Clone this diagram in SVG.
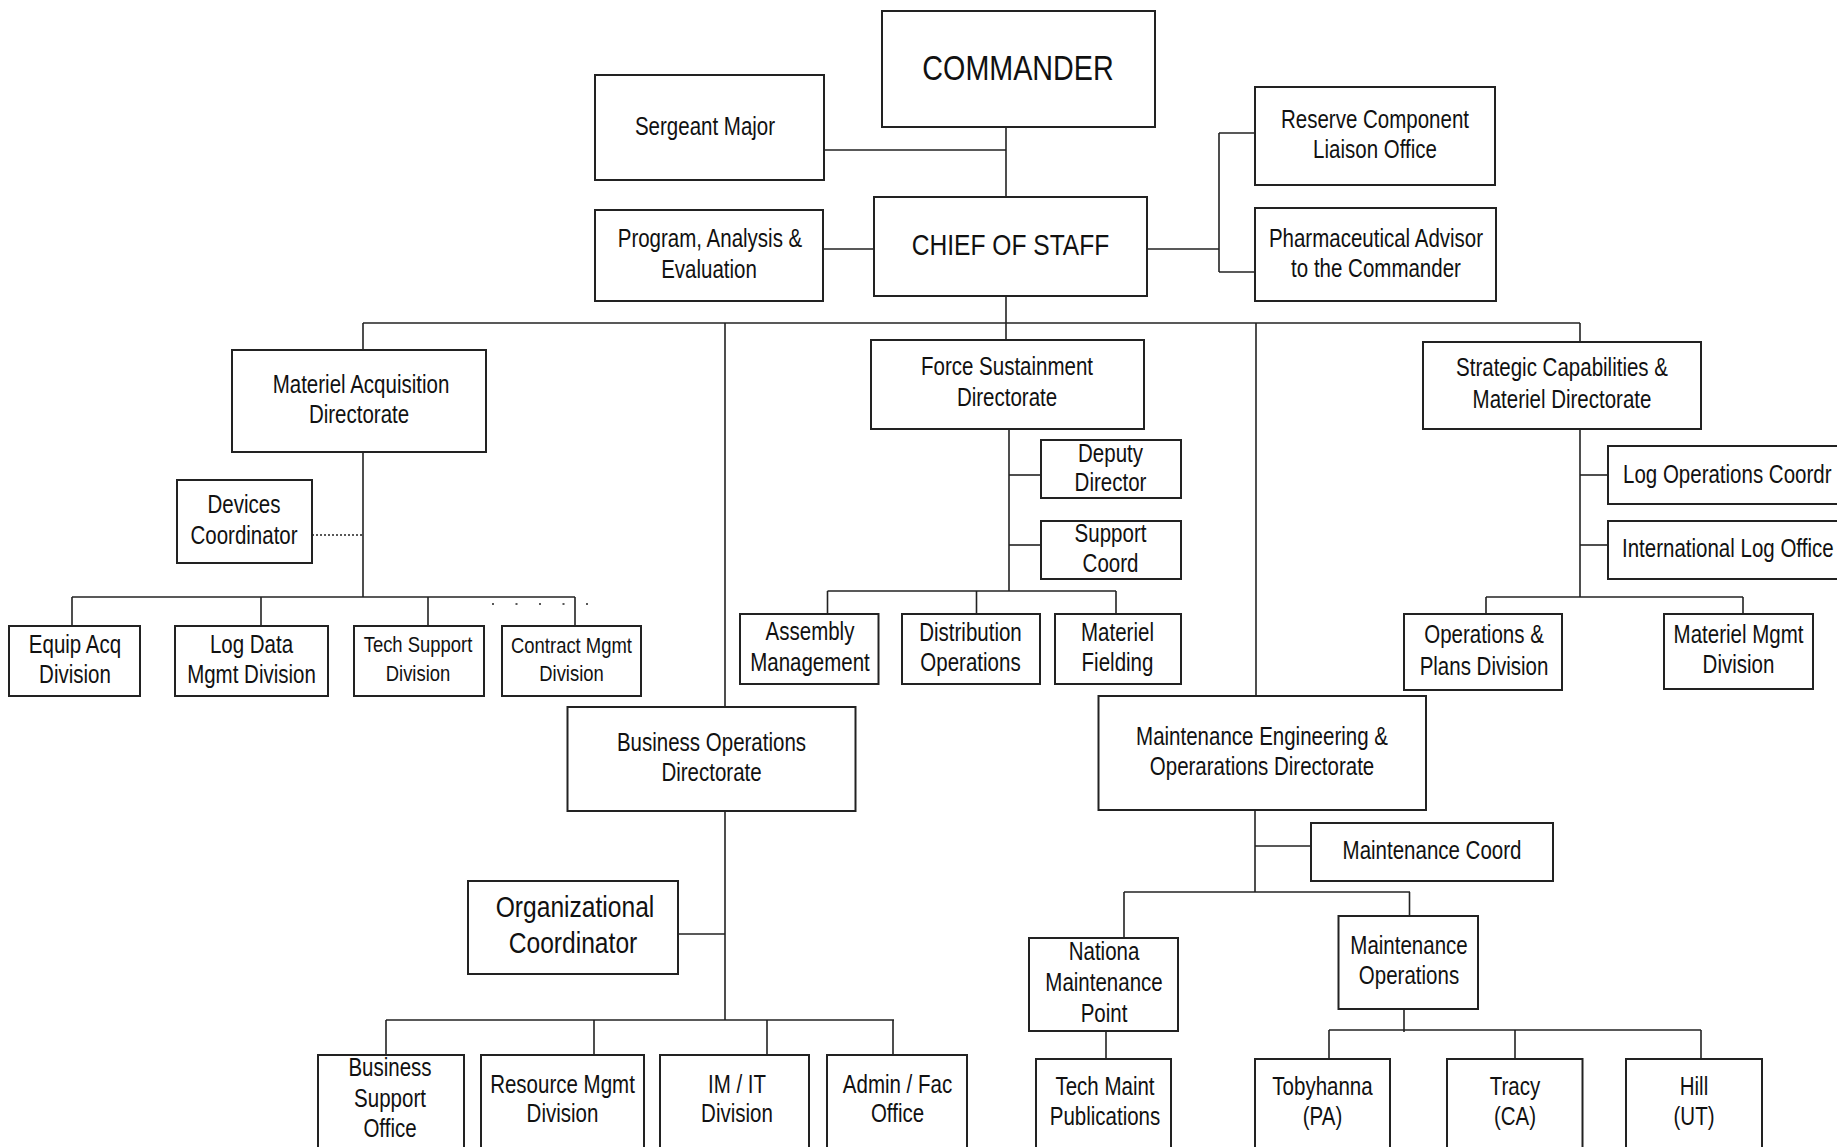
<svg xmlns="http://www.w3.org/2000/svg" width="1837" height="1147" viewBox="0 0 1837 1147">
<style>
rect{fill:#fff;stroke:#222;stroke-width:2}
text{font-family:"Liberation Sans",Arial,sans-serif;font-size:25px;fill:#111;text-anchor:middle}
.l{text-anchor:start}
.s{font-size:22.5px}
.conn line{stroke:#222;stroke-width:1.6}
.dot{stroke-dasharray:2 2}
</style>
<rect x="0" y="0" width="1837" height="1147" style="stroke:none"/>
<g class="conn">
<line x1="1006" y1="127" x2="1006" y2="197"/>
<line x1="824" y1="150" x2="1006" y2="150"/>
<line x1="823" y1="249" x2="874" y2="249"/>
<line x1="1147" y1="249" x2="1219" y2="249"/>
<line x1="1219" y1="133" x2="1219" y2="272"/>
<line x1="1219" y1="133" x2="1255" y2="133"/>
<line x1="1219" y1="272" x2="1255" y2="272"/>
<line x1="1006" y1="296" x2="1006" y2="340"/>
<line x1="363" y1="323" x2="1580" y2="323"/>
<line x1="363" y1="323" x2="363" y2="350"/>
<line x1="725" y1="323" x2="725" y2="707"/>
<line x1="1256" y1="323" x2="1256" y2="696"/>
<line x1="1580" y1="323" x2="1580" y2="342"/>
<line x1="363" y1="452" x2="363" y2="597"/>
<line class="dot" x1="312" y1="535" x2="363" y2="535"/>
<line x1="72" y1="597" x2="575" y2="597"/>
<line x1="72" y1="597" x2="72" y2="626"/>
<line x1="261" y1="597" x2="261" y2="626"/>
<line x1="428" y1="597" x2="428" y2="626"/>
<line x1="575" y1="597" x2="575" y2="626"/>
<line class="dot" x1="492" y1="604" x2="590" y2="604" style="stroke-dasharray:2 21.5"/>
<line x1="1009" y1="429" x2="1009" y2="591"/>
<line x1="1009" y1="475" x2="1041" y2="475"/>
<line x1="1009" y1="545" x2="1041" y2="545"/>
<line x1="827.5" y1="591" x2="1116" y2="591"/>
<line x1="827.5" y1="591" x2="827.5" y2="614"/>
<line x1="976.5" y1="591" x2="976.5" y2="614"/>
<line x1="1116" y1="591" x2="1116" y2="614"/>
<line x1="1580" y1="429" x2="1580" y2="597"/>
<line x1="1580" y1="475" x2="1608" y2="475"/>
<line x1="1580" y1="545" x2="1608" y2="545"/>
<line x1="1486" y1="597" x2="1743" y2="597"/>
<line x1="1486" y1="597" x2="1486" y2="614"/>
<line x1="1743" y1="597" x2="1743" y2="614"/>
<line x1="725" y1="811" x2="725" y2="1020"/>
<line x1="677" y1="934" x2="725" y2="934"/>
<line x1="386" y1="1020" x2="894" y2="1020"/>
<line x1="386" y1="1020" x2="386" y2="1055"/>
<line x1="594" y1="1020" x2="594" y2="1055"/>
<line x1="767" y1="1020" x2="767" y2="1055"/>
<line x1="893" y1="1020" x2="893" y2="1055"/>
<line x1="1255" y1="810" x2="1255" y2="892"/>
<line x1="1255" y1="846" x2="1311" y2="846"/>
<line x1="1124" y1="892" x2="1410" y2="892"/>
<line x1="1124" y1="892" x2="1124" y2="938"/>
<line x1="1409.5" y1="892" x2="1409.5" y2="916"/>
<line x1="1404" y1="1009" x2="1404" y2="1032"/>
<line x1="1329" y1="1030" x2="1701" y2="1030"/>
<line x1="1329" y1="1030" x2="1329" y2="1059"/>
<line x1="1515" y1="1030" x2="1515" y2="1059"/>
<line x1="1701" y1="1030" x2="1701" y2="1059"/>
<line x1="1106" y1="1031" x2="1106" y2="1059"/>
</g>
<g id="commander"><rect x="882" y="11" width="273" height="116"/><text transform="translate(1018 80) scale(.82 1)" style="font-size:35px">COMMANDER</text></g>
<g id="sergeant-major"><rect x="595" y="75" width="229" height="105"/><text transform="translate(705 135) scale(.82 1)">Sergeant Major</text></g>
<g id="program-analysis"><rect x="595" y="210" width="228" height="91"/><text transform="translate(710 247) scale(.82 1)">Program, Analysis &amp;</text><text transform="translate(709 278) scale(.82 1)">Evaluation</text></g>
<g id="chief-of-staff"><rect x="874" y="197" width="273" height="99"/><text transform="translate(1010.5 255) scale(.82 1)" style="font-size:30px">CHIEF OF STAFF</text></g>
<g id="reserve-component"><rect x="1255" y="87" width="240" height="98"/><text transform="translate(1375 128) scale(.82 1)">Reserve Component</text><text transform="translate(1375 158) scale(.82 1)">Liaison Office</text></g>
<g id="pharmaceutical-advisor"><rect x="1255" y="208" width="241" height="93"/><text transform="translate(1376 247) scale(.82 1)">Pharmaceutical Advisor</text><text transform="translate(1376 277) scale(.82 1)">to the Commander</text></g>
<g id="materiel-acquisition"><rect x="232" y="350" width="254" height="102"/><text transform="translate(361 393) scale(.82 1)">Materiel Acquisition</text><text transform="translate(359 423) scale(.82 1)">Directorate</text></g>
<g id="force-sustainment"><rect x="871" y="340" width="273" height="89"/><text transform="translate(1007 375) scale(.82 1)">Force Sustainment</text><text transform="translate(1007 406) scale(.82 1)">Directorate</text></g>
<g id="strategic-capabilities"><rect x="1423" y="342" width="278" height="87"/><text transform="translate(1562 376) scale(.82 1)">Strategic Capabilities &amp;</text><text transform="translate(1562 408) scale(.82 1)">Materiel Directorate</text></g>
<g id="devices-coordinator"><rect x="177" y="480" width="135" height="83"/><text transform="translate(244 513) scale(.82 1)">Devices</text><text transform="translate(244 544) scale(.82 1)">Coordinator</text></g>
<g id="equip-acq"><rect x="9" y="626" width="131" height="70"/><text transform="translate(75 653) scale(.82 1)">Equip Acq</text><text transform="translate(75 683) scale(.82 1)">Division</text></g>
<g id="log-data"><rect x="175" y="626" width="153" height="70"/><text transform="translate(251.5 653) scale(.82 1)">Log Data</text><text transform="translate(251.5 683) scale(.82 1)">Mgmt Division</text></g>
<g id="tech-support"><rect x="354" y="626" width="130" height="70"/><text class="s" transform="translate(418 652) scale(.82 1)">Tech Support</text><text class="s" transform="translate(418 681) scale(.82 1)">Division</text></g>
<g id="contract-mgmt"><rect x="502" y="626" width="139" height="70"/><text class="s" transform="translate(571.5 653) scale(.82 1)">Contract Mgmt</text><text class="s" transform="translate(571.5 681) scale(.82 1)">Division</text></g>
<g id="business-operations"><rect x="567.5" y="707" width="288" height="104"/><text transform="translate(711.5 751) scale(.82 1)">Business Operations</text><text transform="translate(711.5 781) scale(.82 1)">Directorate</text></g>
<g id="assembly-management"><rect x="740" y="614" width="138.5" height="70"/><text transform="translate(810 640) scale(.82 1)">Assembly</text><text transform="translate(810 671) scale(.82 1)">Management</text></g>
<g id="distribution-operations"><rect x="902" y="614" width="138" height="70"/><text transform="translate(970.5 641) scale(.82 1)">Distribution</text><text transform="translate(970.5 671) scale(.82 1)">Operations</text></g>
<g id="materiel-fielding"><rect x="1055" y="614" width="126" height="70"/><text transform="translate(1117.5 641) scale(.82 1)">Materiel</text><text transform="translate(1117.5 671) scale(.82 1)">Fielding</text></g>
<g id="deputy-director"><rect x="1041" y="440" width="140" height="58"/><text transform="translate(1110.5 462) scale(.82 1)">Deputy</text><text transform="translate(1110.5 491) scale(.82 1)">Director</text></g>
<g id="support-coord"><rect x="1041" y="521" width="140" height="58"/><text transform="translate(1110.5 542) scale(.82 1)">Support</text><text transform="translate(1110.5 572) scale(.82 1)">Coord</text></g>
<g id="log-operations-coordr"><rect x="1608" y="446" width="245" height="58"/><text class="l" transform="translate(1623 483) scale(.82 1)">Log Operations Coordr</text></g>
<g id="international-log-office"><rect x="1608" y="521" width="245" height="58"/><text class="l" transform="translate(1622 557) scale(.82 1)">International Log Office</text></g>
<g id="operations-plans"><rect x="1404" y="614" width="158" height="76"/><text transform="translate(1484 643) scale(.82 1)">Operations &amp;</text><text transform="translate(1484 675) scale(.82 1)">Plans Division</text></g>
<g id="materiel-mgmt"><rect x="1664" y="614" width="149" height="75"/><text transform="translate(1738.5 643) scale(.82 1)">Materiel Mgmt</text><text transform="translate(1738.5 673) scale(.82 1)">Division</text></g>
<g id="maintenance-engineering"><rect x="1098.5" y="696" width="327.5" height="114"/><text transform="translate(1262 745) scale(.82 1)">Maintenance Engineering &amp;</text><text transform="translate(1262 775) scale(.82 1)">Operarations Directorate</text></g>
<g id="organizational-coordinator"><rect x="468" y="881" width="210" height="93"/><text transform="translate(575 917) scale(.82 1)" style="font-size:30px">Organizational</text><text transform="translate(573 953) scale(.82 1)" style="font-size:30px">Coordinator</text></g>
<g id="business-support"><rect x="318" y="1055" width="146" height="110"/><text transform="translate(390 1076) scale(.82 1)">Business</text><text transform="translate(390 1107) scale(.82 1)">Support</text><text transform="translate(390 1137) scale(.82 1)">Office</text></g>
<g id="resource-mgmt"><rect x="481" y="1055" width="163" height="110"/><text transform="translate(562.5 1093) scale(.82 1)">Resource Mgmt</text><text transform="translate(562.5 1122) scale(.82 1)">Division</text></g>
<g id="im-it"><rect x="660" y="1055" width="149" height="110"/><text transform="translate(737 1093) scale(.82 1)">IM / IT</text><text transform="translate(737 1122) scale(.82 1)">Division</text></g>
<g id="admin-fac"><rect x="827" y="1055" width="140" height="110"/><text transform="translate(897.5 1093) scale(.82 1)">Admin / Fac</text><text transform="translate(897.5 1122) scale(.82 1)">Office</text></g>
<g id="maintenance-coord"><rect x="1311" y="823" width="242" height="58"/><text transform="translate(1432 859) scale(.82 1)">Maintenance Coord</text></g>
<g id="national-maintenance-point"><rect x="1029" y="938" width="149" height="93"/><text transform="translate(1104 960) scale(.82 1)">Nationa</text><text transform="translate(1104 991) scale(.82 1)">Maintenance</text><text transform="translate(1104 1022) scale(.82 1)">Point</text></g>
<g id="maintenance-operations"><rect x="1338.5" y="916" width="139.5" height="93"/><text transform="translate(1409 954) scale(.82 1)">Maintenance</text><text transform="translate(1409 984) scale(.82 1)">Operations</text></g>
<g id="tech-maint-publications"><rect x="1036" y="1059" width="135" height="110"/><text transform="translate(1105 1095) scale(.82 1)">Tech Maint</text><text transform="translate(1105 1125) scale(.82 1)">Publications</text></g>
<g id="tobyhanna"><rect x="1255" y="1059" width="135" height="110"/><text transform="translate(1322.5 1095) scale(.82 1)">Tobyhanna</text><text transform="translate(1322.5 1125) scale(.82 1)">(PA)</text></g>
<g id="tracy"><rect x="1447" y="1059" width="135.5" height="110"/><text transform="translate(1515 1095) scale(.82 1)">Tracy</text><text transform="translate(1515 1125) scale(.82 1)">(CA)</text></g>
<g id="hill"><rect x="1626" y="1059" width="136" height="110"/><text transform="translate(1694 1095) scale(.82 1)">Hill</text><text transform="translate(1694 1125) scale(.82 1)">(UT)</text></g>
</svg>
